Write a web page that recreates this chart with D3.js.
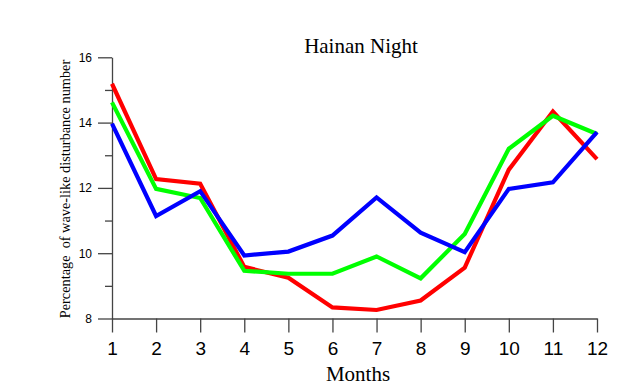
<!DOCTYPE html>
<html>
<head>
<meta charset="utf-8">
<script src="https://cdn.jsdelivr.net/npm/d3@7"></script>
<style>
  body { margin: 0; background: #fff; }
  svg { display: block; }
</style>
</head>
<body>
<div id="chart"></div>
<script>
const months = [1, 2, 3, 4, 5, 6, 7, 8, 9, 10, 11, 12];
const redValues   = [15.19, 12.27, 12.13, 9.58, 9.25, 8.34, 8.26, 8.55, 9.56, 12.56, 14.34, 12.88];
const greenValues = [14.62, 11.97, 11.69, 9.46, 9.37, 9.37, 9.90, 9.23, 10.59, 13.20, 14.21, 13.65];
const blueValues  = [13.97, 11.14, 11.90, 9.93, 10.05, 10.54, 11.71, 10.63, 10.03, 11.97, 12.17, 13.71];
const yMajorTicks = [8, 10, 12, 14, 16];
const yMinorTicks = [9, 11, 13, 15];

const width = 634, height = 387;

const svg = d3.select("#chart").append("svg")
    .attr("width", width)
    .attr("height", height);

const x = d3.scaleLinear().domain([1, 12]).range([112, 597]);
const y = d3.scaleLinear().domain([8, 16]).range([318.5, 57.3]);

const axisColor = "#444";

// y axis: minor ticks then major ticks with labels
const yMinor = svg.append("g")
    .attr("transform", `translate(${x(1)},0)`)
    .call(d3.axisLeft(y).tickValues(yMinorTicks).tickSize(7).tickSizeOuter(0).tickFormat(""));
yMinor.select(".domain").remove();

const yAxis = svg.append("g")
    .attr("transform", `translate(${x(1)},0)`)
    .call(d3.axisLeft(y).tickValues(yMajorTicks).tickSize(14).tickSizeOuter(0).tickPadding(6).tickFormat(d3.format("d")));
yAxis.selectAll("text")
    .style("font-family", "'Liberation Sans', Arial, sans-serif")
    .style("font-size", "12px")
    .attr("fill", "#000");

// x axis
const xAxis = svg.append("g")
    .attr("transform", `translate(0,${y(8)})`)
    .call(d3.axisBottom(x).tickValues(months).tickSize(14).tickSizeOuter(0).tickPadding(9).tickFormat(d3.format("d")));
xAxis.selectAll("text")
    .style("font-family", "'Liberation Sans', Arial, sans-serif")
    .style("font-size", "19px")
    .attr("fill", "#000");

svg.selectAll(".domain, .tick line")
    .attr("stroke", axisColor)
    .attr("stroke-width", 1.3);

// lines: red, green, blue (blue on top)
const line = d3.line()
    .x((d, i) => x(months[i]))
    .y(d => y(d));

[[redValues, "#ff0000"], [greenValues, "#00ff00"], [blueValues, "#0000ff"]].forEach(([vals, color]) => {
    svg.append("path")
        .datum(vals)
        .attr("d", line)
        .attr("fill", "none")
        .attr("stroke", color)
        .attr("stroke-width", 4.2)
        .attr("stroke-linejoin", "miter");
});

// title and labels
svg.append("text")
    .attr("x", 361)
    .attr("y", 53)
    .attr("text-anchor", "middle")
    .style("font-family", "'Liberation Serif', 'Times New Roman', serif")
    .style("font-size", "21px")
    .text("Hainan Night");

svg.append("text")
    .attr("x", 358)
    .attr("y", 381)
    .attr("text-anchor", "middle")
    .style("font-family", "'Liberation Serif', 'Times New Roman', serif")
    .style("font-size", "21px")
    .text("Months");

svg.append("text")
    .attr("transform", "rotate(-90)")
    .attr("x", -189)
    .attr("y", 70)
    .attr("text-anchor", "middle")
    .style("font-family", "'Liberation Serif', 'Times New Roman', serif")
    .style("font-size", "14.3px")
    .style("white-space", "pre")
    .text("Percentage  of wave-like disturbance number");
</script>
</body>
</html>
